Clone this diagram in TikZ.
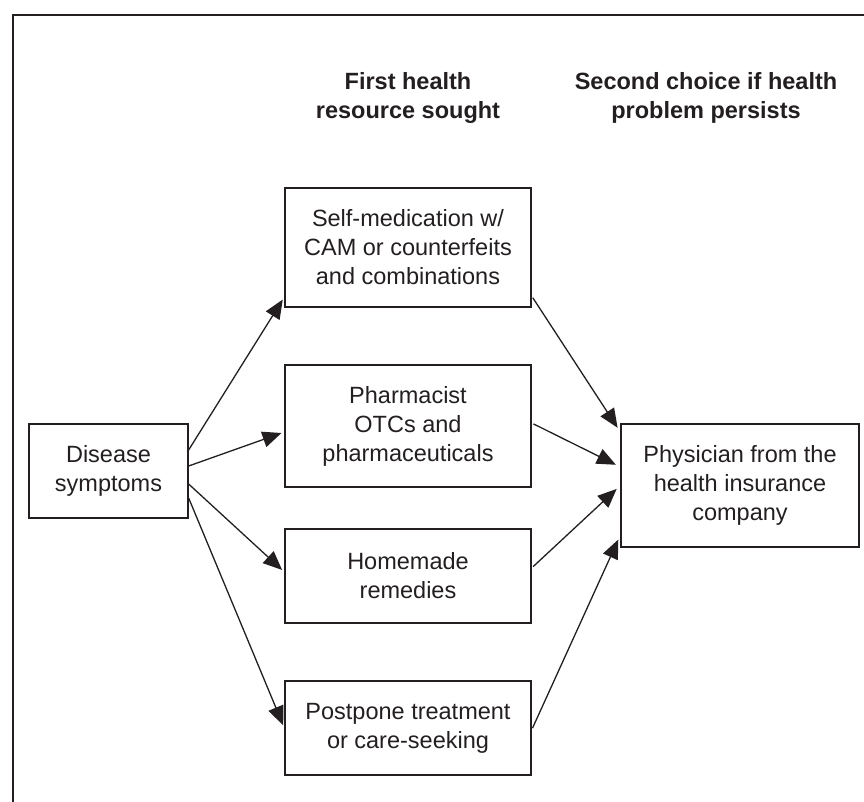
\documentclass[tikz,border=0pt]{standalone}
\usepackage{fontspec}
\setmainfont{Liberation Sans}
\usetikzlibrary{arrows.meta}
\definecolor{ink}{HTML}{231F20}
\begin{document}
\begin{tikzpicture}[x=1pt,y=-1pt,
  box/.style={draw=ink, line width=1.3pt, align=center, inner sep=0pt, text=ink,
              font=\fontsize{23.5}{29}\selectfont},
  head/.style={align=center, text=ink, font=\fontsize{23.5}{29}\selectfont\bfseries},
  flow/.style={draw=ink, line width=1.3pt, -{Triangle[length=19pt,width=16pt]}}]
\useasboundingbox (0,0) rectangle (864,802);
% frame
\draw[ink, line width=1.5pt] (864,15) -- (13,15) -- (13,802);

% column headings
\node[head] (h1) at (408,98) {First health\\resource sought};
\node[head] (h2) at (706,98) {Second choice if health\\problem persists};

% boxes
\node[box, minimum width=159pt, minimum height=94pt] (dis) at (108.5,471) {Disease\\symptoms};
\node[box, minimum width=246pt, minimum height=119pt] (s1) at (408,247.5) {Self-medication w/\\CAM or counterfeits\\and combinations};
\node[box, minimum width=246pt, minimum height=122pt] (s2) at (408,426) {Pharmacist\\OTCs and\\pharmaceuticals};
\node[box, minimum width=246pt, minimum height=94pt] (s3) at (408,576) {Homemade\\remedies};
\node[box, minimum width=246pt, minimum height=94pt] (s4) at (408,728) {Postpone treatment\\or care-seeking};
\node[box, minimum width=238pt, minimum height=123pt] (phys) at (740,485.5) {Physician from the\\health insurance\\company};

% first resource
\draw[flow, shorten >=3pt] ([yshift=21pt]dis.east) -- ([yshift=-49.5pt]s1.west);
\draw[flow, shorten >=3pt] ([yshift=5pt]dis.east) -- ([yshift=-6pt]s2.west);
\draw[flow, shorten >=3pt] ([yshift=-13pt]dis.east) -- ([yshift=4pt]s3.west);
\draw[flow, shorten >=3pt] ([yshift=-27pt]dis.east) -- (s4.west);

% second choice
\draw[flow, shorten <=2pt, shorten >=5pt] ([yshift=-48.5pt]s1.east) -- ([yshift=53.5pt]phys.west);
\draw[flow, shorten <=2pt, shorten >=5pt] ([yshift=3pt]s2.east) -- ([yshift=18.5pt]phys.west);
\draw[flow, shorten <=2pt, shorten >=5pt] ([yshift=8pt]s3.east) -- (phys.west);
\draw[flow, shorten <=2pt, shorten >=5pt] ([yshift=-2pt]s4.east) -- ([yshift=-49.5pt]phys.west);
\end{tikzpicture}
\end{document}
